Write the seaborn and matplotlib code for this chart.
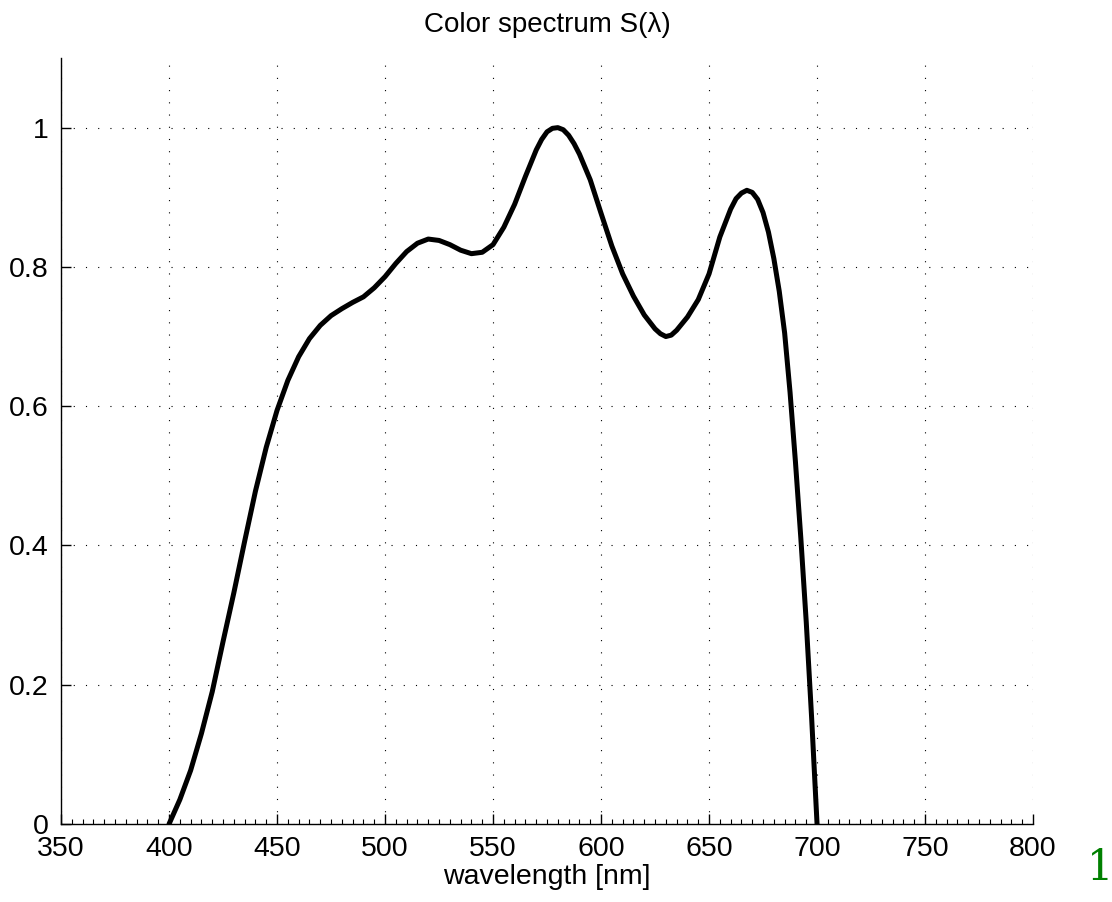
import numpy as np
import pandas as pd
import seaborn as sns
import matplotlib.pyplot as plt
from matplotlib.ticker import MultipleLocator

# =========================
# data
# =========================
wavelength = [400, 405, 410, 415, 420, 425, 430, 435, 440, 445,
              450, 455, 460, 465, 470, 475, 480, 485, 490, 495,
              500, 505, 510, 515, 520, 525, 530, 535, 540, 545,
              550, 555, 560, 565, 570, 572.5, 575, 577.5, 580, 582.5,
              585, 587.5, 590, 595, 600, 605, 610, 615, 620, 625,
              627.5, 630, 632.5, 635, 640, 645, 650, 655, 660, 662.5,
              665, 667.5, 670, 672.5, 675, 677.5, 680, 682.5, 685, 687.5,
              690, 692.5, 695, 697.5, 700]
intensity = [0.000, 0.035, 0.077, 0.130, 0.190, 0.262, 0.332, 0.406, 0.478, 0.541,
             0.594, 0.637, 0.671, 0.697, 0.716, 0.730, 0.740, 0.749, 0.757, 0.770,
             0.786, 0.805, 0.822, 0.834, 0.840, 0.838, 0.832, 0.824, 0.819, 0.821,
             0.832, 0.857, 0.890, 0.930, 0.968, 0.983, 0.994, 0.999, 1.000, 0.997,
             0.989, 0.977, 0.962, 0.925, 0.877, 0.830, 0.790, 0.758, 0.731, 0.711,
             0.704, 0.700, 0.702, 0.709, 0.728, 0.753, 0.790, 0.843, 0.883, 0.898,
             0.906, 0.910, 0.907, 0.897, 0.878, 0.850, 0.812, 0.765, 0.705, 0.620,
             0.520, 0.410, 0.290, 0.152, 0.000]

x_ticks = [350, 400, 450, 500, 550, 600, 650, 700, 750, 800]
y_ticks = [0, 0.2, 0.4, 0.6, 0.8, 1]
y_tick_labels = ["0", "0.2", "0.4", "0.6", "0.8", "1"]

df = pd.DataFrame({"wavelength": wavelength, "S": intensity})

# =========================
# style
# =========================
sns.set_style("white")
plt.rcParams["font.family"] = ["Liberation Sans", "DejaVu Sans"]

fig = plt.figure(figsize=(11.12, 9.02), dpi=100)
ax = fig.add_axes([0.0549, 0.0865, 0.8741, 0.8492])

sns.lineplot(data=df, x="wavelength", y="S", color="black", linewidth=3.6, ax=ax)
ax.lines[0].set_solid_joinstyle("round")

ax.set_xlim(350, 800)
ax.set_ylim(0, 1.1)
ax.set_xticks(x_ticks)
ax.set_yticks(y_ticks)
ax.set_yticklabels(y_tick_labels)
ax.xaxis.set_minor_locator(MultipleLocator(5))

ax.grid(True, which="major", color="black", linestyle=(0, (1, 10)), linewidth=0.8)
ax.set_axisbelow(True)

for side in ["top", "right"]:
    ax.spines[side].set_visible(False)
for side in ["left", "bottom"]:
    ax.spines[side].set_color("black")
    ax.spines[side].set_linewidth(1.0)

ax.tick_params(axis="both", which="major", direction="in", length=7, width=1,
               color="black", labelsize=20.5, labelcolor="black",
               bottom=True, left=True, top=False, right=False)
ax.tick_params(axis="x", which="major", pad=9)
ax.tick_params(axis="y", which="major", pad=9)
ax.tick_params(axis="x", which="minor", direction="in", length=3.5, width=0.8,
               color="black", bottom=True, top=False)

ax.set_title("Color spectrum S(λ)", fontsize=20, pad=19, color="black")
ax.set_xlabel("wavelength [nm]", fontsize=20.5, labelpad=1, color="black")
ax.set_ylabel("")

# page number in the corner
fig.text(1100 / 1112, 1 - 880 / 902, "1", color="green", fontsize=30,
         family="DejaVu Serif", ha="center", va="baseline")

plt.savefig("out.png", dpi=100)
